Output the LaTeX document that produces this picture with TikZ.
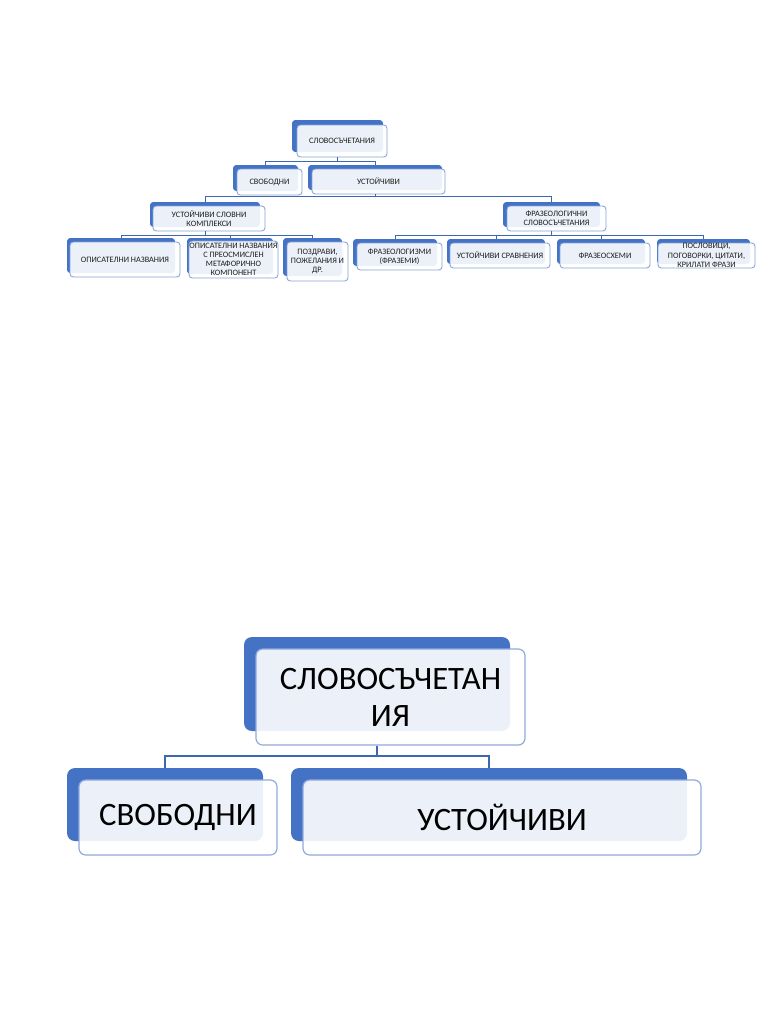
\documentclass[tikz,border=0pt]{standalone}
\usepackage{fontspec}
\setmainfont{Carlito}
\usetikzlibrary{fit}
\definecolor{accent}{HTML}{4472C4}
\definecolor{edgeblue}{HTML}{8FAADC}
\definecolor{linkblue}{HTML}{3E67B1}
\definecolor{txtgray}{HTML}{1E1E1E}
\tikzset{
  backS/.style={fill=accent, rounded corners=2.5pt, inner sep=0pt, draw=none},
  frontS/.style={draw=edgeblue!85!accent, line width=0.65pt, fill=white, fill opacity=0.9, rounded corners=2.5pt, inner sep=0pt},
  txtS/.style={text=txtgray, align=center, inner sep=0pt, font=\fontsize{6.2}{6.9}\selectfont},
  backL/.style={fill=accent, rounded corners=6pt, inner sep=0pt, draw=none},
  frontL/.style={draw=edgeblue, line width=0.9pt, fill=white, fill opacity=0.9, rounded corners=5pt, inner sep=0pt},
  txtL/.style={text=black, align=center, inner sep=0pt, font=\fontsize{24.5}{27.7}\selectfont},
  connS/.style={draw=linkblue, line width=0.55pt},
  connL/.style={draw=linkblue, line width=0.8pt},
}
\newcommand\smbox[7]{%
  \node[back#2, fit={(#3) (#4)}] (#1-b) {};
  \node[front#2, fit={(#5) (#6)}] (#1) {};
  \node[txt#2] (#1-t) at (#1.center) {#7};
}
\begin{document}
\begin{tikzpicture}[x=0.75pt, y=-0.75pt]
\useasboundingbox (0,0) rectangle (768,1024);
\fill[white] (0,0) rectangle (768,1024);

% ---------- top diagram ----------
\smbox{T}{S}{292,120}{383,152}{297,125}{387,157}{СЛОВОСЪЧЕТАНИЯ}
\smbox{Sv}{S}{233,165}{298,191}{237,169}{302,195}{СВОБОДНИ}
\smbox{U}{S}{308,165}{442,190}{312,169}{445,194}{УСТОЙЧИВИ}
\smbox{K}{S}{150,202}{260,227}{153,206}{265,231}{УСТОЙЧИВИ СЛОВНИ\\КОМПЛЕКСИ}
\smbox{F}{S}{503,202}{600,227}{507,206}{606,231}{ФРАЗЕОЛОГИЧНИ\\СЛОВОСЪЧЕТАНИЯ}
\smbox{KA}{S}{67,238}{175,273}{70,242}{180,277}{ОПИСАТЕЛНИ НАЗВАНИЯ}
\smbox{KB}{S}{187,238}{273,274}{189,241}{278,278}{ОПИСАТЕЛНИ НАЗВАНИЯ\\С ПРЕОСМИСЛЕН\\МЕТАФОРИЧНО\\КОМПОНЕНТ}
\smbox{KC}{S}{283,238}{342,276}{287,242}{348,281}{ПОЗДРАВИ,\\ПОЖЕЛАНИЯ И\\ДР.}
\smbox{FA}{S}{353,239}{437,266}{357,243}{442,270}{ФРАЗЕОЛОГИЗМИ\\(ФРАЗЕМИ)}
\smbox{FB}{S}{447,239}{545,264}{450,243}{550,268}{УСТОЙЧИВИ СРАВНЕНИЯ}
\smbox{FC}{S}{557,239}{645,264}{560,243}{650,268}{ФРАЗЕОСХЕМИ}
\smbox{FD}{S}{657,239}{750,264}{658,243}{755,268}{ПОСЛОВИЦИ,\\ПОГОВОРКИ, ЦИТАТИ,\\КРИЛАТИ ФРАЗИ}

\coordinate (J0) at (337,161);
\coordinate (J1) at (375,196);
\coordinate (J2) at (205,235);
\coordinate (J3) at (551,235);
\draw[connS] (T-b.south |- T.south) -- (T-b.south |- J0) -| (Sv-b.north);
\draw[connS] (T-b.south |- J0) -| (U-b.north);
\draw[connS] (U-b.south |- U.south) -- (U-b.south |- J1) -| (K-b.north);
\draw[connS] (U-b.south |- J1) -| (F-b.north);
\draw[connS] (K-b.south |- K.south) -- (K-b.south |- J2) -| (KA-b.north);
\draw[connS] (K-b.south |- J2) -| (KB-b.north);
\draw[connS] (K-b.south |- J2) -| (KC-b.north);
\draw[connS] (F-b.south |- F.south) -- (F-b.south |- J3) -| (FA-b.north);
\draw[connS] (F-b.south |- J3) -| (FB-b.north);
\draw[connS] (F-b.south |- J3) -| (FC-b.north);
\draw[connS] (F-b.south |- J3) -| (FD-b.north);

% ---------- bottom diagram ----------
\smbox{BT}{L}{244,637}{510,731}{256,649}{525,745}{СЛОВОСЪЧЕТАН\\ИЯ}
\smbox{BS}{L}{67,768}{263,841}{79,780}{277,855}{СВОБОДНИ}
\smbox{BU}{L}{291,768}{687,841}{303,780}{701,855}{УСТОЙЧИВИ}

\coordinate (BJ) at (377,756);
\draw[connL] (BT-b.south |- BT.south) -- (BT-b.south |- BJ) -| (BS-b.north);
\draw[connL] (BT-b.south |- BJ) -| (BU-b.north);
\end{tikzpicture}
\end{document}
